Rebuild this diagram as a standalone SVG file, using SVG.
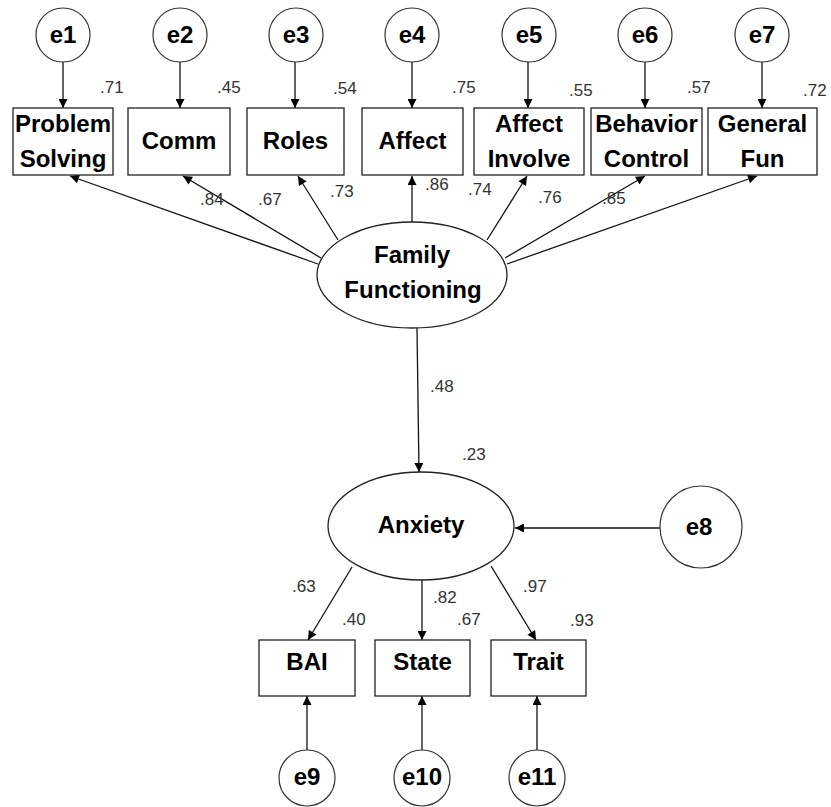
<svg xmlns="http://www.w3.org/2000/svg" width="831" height="807" viewBox="0 0 831 807">
<defs>
<marker id="arr" viewBox="0 0 10 10" refX="10" refY="5" markerWidth="10" markerHeight="9" markerUnits="userSpaceOnUse" orient="auto">
<path d="M0,0 L10,5 L0,10 z" fill="#000"/>
</marker>
<style>
.box{fill:#fff;stroke:#222;stroke-width:1.3}
.circ{fill:#fff;stroke:#333;stroke-width:1.2}
.lat{fill:#fff;stroke:#222;stroke-width:1.3}
.lbl{font-family:"Liberation Sans",Arial,sans-serif;font-weight:bold;font-size:24px;fill:#000;text-anchor:middle}
.num{font-family:"Liberation Sans",Arial,sans-serif;font-size:17px;fill:#333}
.con line{stroke:#111;stroke-width:1.3;marker-end:url(#arr)}
</style>
</defs>
<rect width="831" height="807" fill="#fff"/>

<g class="con" id="connectors">
<line x1="63" y1="62" x2="63" y2="108"/>
<line x1="180" y1="62" x2="180" y2="108"/>
<line x1="295" y1="62" x2="295" y2="108"/>
<line x1="412" y1="62" x2="412" y2="108"/>
<line x1="528" y1="62" x2="528" y2="108"/>
<line x1="645" y1="62" x2="645" y2="108"/>
<line x1="762" y1="62" x2="762" y2="108"/>
<line x1="318" y1="264" x2="70" y2="176"/>
<line x1="321" y1="258" x2="183" y2="176"/>
<line x1="338" y1="240" x2="298" y2="176"/>
<line x1="412" y1="222" x2="412" y2="176"/>
<line x1="487" y1="240" x2="527" y2="176"/>
<line x1="505" y1="258" x2="645" y2="176"/>
<line x1="507" y1="264" x2="757" y2="176"/>
<line x1="417" y1="328" x2="419" y2="472"/>
<line x1="660" y1="528" x2="515" y2="528"/>
<line x1="352" y1="567" x2="308" y2="640"/>
<line x1="422" y1="580" x2="422" y2="640"/>
<line x1="491" y1="566" x2="536" y2="640"/>
<line x1="307" y1="750" x2="307" y2="696"/>
<line x1="422" y1="750" x2="422" y2="696"/>
<line x1="537" y1="750" x2="537" y2="696"/>
</g>

<g id="e1"><circle class="circ" cx="63" cy="35" r="27"/><text class="lbl" x="63" y="43">e1</text></g>
<g id="e2"><circle class="circ" cx="180" cy="35" r="27"/><text class="lbl" x="180" y="43">e2</text></g>
<g id="e3"><circle class="circ" cx="296" cy="35" r="27"/><text class="lbl" x="296" y="43">e3</text></g>
<g id="e4"><circle class="circ" cx="412" cy="35" r="27"/><text class="lbl" x="412" y="43">e4</text></g>
<g id="e5"><circle class="circ" cx="529" cy="35" r="27"/><text class="lbl" x="529" y="43">e5</text></g>
<g id="e6"><circle class="circ" cx="645" cy="35" r="27"/><text class="lbl" x="645" y="43">e6</text></g>
<g id="e7"><circle class="circ" cx="762" cy="35" r="27"/><text class="lbl" x="762" y="43">e7</text></g>

<g id="problem-solving"><rect class="box" x="13" y="108" width="100" height="67"/><text class="lbl" x="63" y="132">Problem</text><text class="lbl" x="63" y="167">Solving</text></g>
<g id="comm"><rect class="box" x="128" y="108" width="102" height="67"/><text class="lbl" x="179" y="149">Comm</text></g>
<g id="roles"><rect class="box" x="247" y="108" width="97" height="67"/><text class="lbl" x="295.5" y="149">Roles</text></g>
<g id="affect"><rect class="box" x="362" y="108" width="101" height="67"/><text class="lbl" x="412.5" y="149">Affect</text></g>
<g id="affect-involve"><rect class="box" x="474" y="108" width="110" height="67"/><text class="lbl" x="529" y="132">Affect</text><text class="lbl" x="529" y="167">Involve</text></g>
<g id="behavior-control"><rect class="box" x="591" y="108" width="111" height="67"/><text class="lbl" x="646.5" y="132">Behavior</text><text class="lbl" x="646.5" y="167">Control</text></g>
<g id="general-fun"><rect class="box" x="708" y="108" width="109" height="67"/><text class="lbl" x="762.5" y="132">General</text><text class="lbl" x="762.5" y="167">Fun</text></g>

<g id="family-functioning"><ellipse class="lat" cx="412" cy="275" rx="95" ry="53"/><text class="lbl" x="412" y="263">Family</text><text class="lbl" x="413" y="298">Functioning</text></g>

<g id="anxiety"><ellipse class="lat" cx="421" cy="526" rx="93" ry="54"/><text class="lbl" x="421" y="533">Anxiety</text></g>
<g id="e8"><circle class="circ" cx="701" cy="527" r="41"/><text class="lbl" x="699" y="535">e8</text></g>

<g id="bai"><rect class="box" x="259" y="640" width="96" height="56"/><text class="lbl" x="307" y="670">BAI</text></g>
<g id="state"><rect class="box" x="375" y="640" width="95" height="56"/><text class="lbl" x="422.5" y="670">State</text></g>
<g id="trait"><rect class="box" x="491" y="640" width="95" height="56"/><text class="lbl" x="538.5" y="670">Trait</text></g>

<g id="e9"><circle class="circ" cx="307" cy="778" r="28"/><text class="lbl" x="307" y="785">e9</text></g>
<g id="e10"><circle class="circ" cx="422" cy="778" r="28"/><text class="lbl" x="422" y="785">e10</text></g>
<g id="e11"><circle class="circ" cx="537" cy="778" r="28"/><text class="lbl" x="537" y="785">e11</text></g>

<g id="numbers">
<text class="num" x="100" y="93">.71</text>
<text class="num" x="217" y="93">.45</text>
<text class="num" x="333" y="94">.54</text>
<text class="num" x="452" y="93">.75</text>
<text class="num" x="569" y="96">.55</text>
<text class="num" x="687" y="93">.57</text>
<text class="num" x="803" y="96">.72</text>
<text class="num" x="200" y="205">.84</text>
<text class="num" x="258" y="205">.67</text>
<text class="num" x="330" y="197">.73</text>
<text class="num" x="425" y="190">.86</text>
<text class="num" x="468" y="195">.74</text>
<text class="num" x="538" y="203">.76</text>
<text class="num" x="602" y="204">.85</text>
<text class="num" x="430" y="392">.48</text>
<text class="num" x="462" y="460">.23</text>
<text class="num" x="292" y="592">.63</text>
<text class="num" x="342" y="625">.40</text>
<text class="num" x="433" y="603">.82</text>
<text class="num" x="457" y="625">.67</text>
<text class="num" x="523" y="592">.97</text>
<text class="num" x="570" y="626">.93</text>
</g>
</svg>
